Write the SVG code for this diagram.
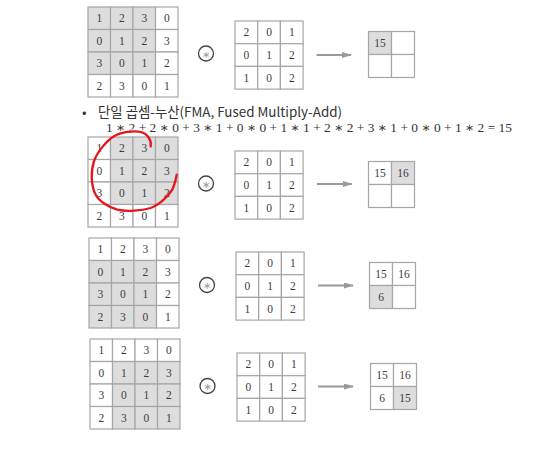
<svg xmlns="http://www.w3.org/2000/svg" width="545" height="449" viewBox="0 0 545 449">
<style>
.c{fill:#fff;stroke:#a6a6a6;stroke-width:1.2}
.s{fill:#dddddd;stroke:#a6a6a6;stroke-width:1.2}
.n{font-family:"Liberation Serif","DejaVu Serif",serif;font-size:11.5px;fill:#3c3c3c;text-anchor:middle}
.op{fill:#fff;stroke:#444;stroke-width:1.3}
.st{font-family:"DejaVu Sans",sans-serif;font-size:10px;fill:#999;text-anchor:middle}
.ar{stroke:#9a9a9a;stroke-width:2;fill:none}
.t{font-family:"Noto Sans CJK KR","Noto Sans",sans-serif;font-size:13.4px;fill:#333}
.eq{font-family:"Liberation Serif","DejaVu Serif",serif;font-size:13.4px;fill:#333}
</style>
<defs>
<marker id="ah" viewBox="0 0 10 6" refX="9" refY="3" markerWidth="5" markerHeight="3" orient="auto" markerUnits="strokeWidth">
<path d="M0,0 L10,3 L0,6 z" fill="#9a9a9a"/>
</marker>
</defs>
<rect width="545" height="449" fill="#fff"/>

<!-- Panel 1 -->
<g id="panel1" transform="translate(88,7)">
<g id="p1-input">
<rect class="s" x="0" y="0" width="22.5" height="22.5"/><rect class="s" x="22.5" y="0" width="22.5" height="22.5"/><rect class="s" x="45" y="0" width="22.5" height="22.5"/><rect class="c" x="67.5" y="0" width="22.5" height="22.5"/>
<rect class="s" x="0" y="22.5" width="22.5" height="22.5"/><rect class="s" x="22.5" y="22.5" width="22.5" height="22.5"/><rect class="s" x="45" y="22.5" width="22.5" height="22.5"/><rect class="c" x="67.5" y="22.5" width="22.5" height="22.5"/>
<rect class="s" x="0" y="45" width="22.5" height="22.5"/><rect class="s" x="22.5" y="45" width="22.5" height="22.5"/><rect class="s" x="45" y="45" width="22.5" height="22.5"/><rect class="c" x="67.5" y="45" width="22.5" height="22.5"/>
<rect class="c" x="0" y="67.5" width="22.5" height="22.5"/><rect class="c" x="22.5" y="67.5" width="22.5" height="22.5"/><rect class="c" x="45" y="67.5" width="22.5" height="22.5"/><rect class="c" x="67.5" y="67.5" width="22.5" height="22.5"/>
<text class="n" x="11.25" y="15.25">1</text><text class="n" x="33.75" y="15.25">2</text><text class="n" x="56.25" y="15.25">3</text><text class="n" x="78.75" y="15.25">0</text>
<text class="n" x="11.25" y="37.75">0</text><text class="n" x="33.75" y="37.75">1</text><text class="n" x="56.25" y="37.75">2</text><text class="n" x="78.75" y="37.75">3</text>
<text class="n" x="11.25" y="60.25">3</text><text class="n" x="33.75" y="60.25">0</text><text class="n" x="56.25" y="60.25">1</text><text class="n" x="78.75" y="60.25">2</text>
<text class="n" x="11.25" y="82.75">2</text><text class="n" x="33.75" y="82.75">3</text><text class="n" x="56.25" y="82.75">0</text><text class="n" x="78.75" y="82.75">1</text>
</g>
<g id="p1-op"><circle class="op" cx="118" cy="46.5" r="7.5"/><text class="st" x="118" y="50.5">∗</text></g>
<g id="p1-kernel">
<rect class="c" x="147" y="14" width="22.7" height="22.7"/><rect class="c" x="169.7" y="14" width="22.7" height="22.7"/><rect class="c" x="192.4" y="14" width="22.7" height="22.7"/>
<rect class="c" x="147" y="36.7" width="22.7" height="22.7"/><rect class="c" x="169.7" y="36.7" width="22.7" height="22.7"/><rect class="c" x="192.4" y="36.7" width="22.7" height="22.7"/>
<rect class="c" x="147" y="59.4" width="22.7" height="22.7"/><rect class="c" x="169.7" y="59.4" width="22.7" height="22.7"/><rect class="c" x="192.4" y="59.4" width="22.7" height="22.7"/>
<text class="n" x="158.35" y="29.35">2</text><text class="n" x="181.05" y="29.35">0</text><text class="n" x="203.75" y="29.35">1</text>
<text class="n" x="158.35" y="52.05">0</text><text class="n" x="181.05" y="52.05">1</text><text class="n" x="203.75" y="52.05">2</text>
<text class="n" x="158.35" y="74.75">1</text><text class="n" x="181.05" y="74.75">0</text><text class="n" x="203.75" y="74.75">2</text>
</g>
<g id="p1-output">
<rect class="s" x="280.5" y="24.5" width="23" height="23"/><rect class="c" x="303.5" y="24.5" width="23" height="23"/>
<rect class="c" x="280.5" y="47.5" width="23" height="23"/><rect class="c" x="303.5" y="47.5" width="23" height="23"/>
<text class="n" x="292" y="40">15</text>
</g>
</g>

<!-- Panel 2 -->
<g id="panel2" transform="translate(88,137)">
<g id="p2-input">
<rect class="c" x="0" y="0" width="22.5" height="22.5"/><rect class="s" x="22.5" y="0" width="22.5" height="22.5"/><rect class="s" x="45" y="0" width="22.5" height="22.5"/><rect class="s" x="67.5" y="0" width="22.5" height="22.5"/>
<rect class="c" x="0" y="22.5" width="22.5" height="22.5"/><rect class="s" x="22.5" y="22.5" width="22.5" height="22.5"/><rect class="s" x="45" y="22.5" width="22.5" height="22.5"/><rect class="s" x="67.5" y="22.5" width="22.5" height="22.5"/>
<rect class="c" x="0" y="45" width="22.5" height="22.5"/><rect class="s" x="22.5" y="45" width="22.5" height="22.5"/><rect class="s" x="45" y="45" width="22.5" height="22.5"/><rect class="s" x="67.5" y="45" width="22.5" height="22.5"/>
<rect class="c" x="0" y="67.5" width="22.5" height="22.5"/><rect class="c" x="22.5" y="67.5" width="22.5" height="22.5"/><rect class="c" x="45" y="67.5" width="22.5" height="22.5"/><rect class="c" x="67.5" y="67.5" width="22.5" height="22.5"/>
<text class="n" x="11.25" y="15.25">1</text><text class="n" x="33.75" y="15.25">2</text><text class="n" x="56.25" y="15.25">3</text><text class="n" x="78.75" y="15.25">0</text>
<text class="n" x="11.25" y="37.75">0</text><text class="n" x="33.75" y="37.75">1</text><text class="n" x="56.25" y="37.75">2</text><text class="n" x="78.75" y="37.75">3</text>
<text class="n" x="11.25" y="60.25">3</text><text class="n" x="33.75" y="60.25">0</text><text class="n" x="56.25" y="60.25">1</text><text class="n" x="78.75" y="60.25">2</text>
<text class="n" x="11.25" y="82.75">2</text><text class="n" x="33.75" y="82.75">3</text><text class="n" x="56.25" y="82.75">0</text><text class="n" x="78.75" y="82.75">1</text>
</g>
<g id="p2-op"><circle class="op" cx="118" cy="46.5" r="7.5"/><text class="st" x="118" y="50.5">∗</text></g>
<g id="p2-kernel">
<rect class="c" x="147" y="14" width="22.7" height="22.7"/><rect class="c" x="169.7" y="14" width="22.7" height="22.7"/><rect class="c" x="192.4" y="14" width="22.7" height="22.7"/>
<rect class="c" x="147" y="36.7" width="22.7" height="22.7"/><rect class="c" x="169.7" y="36.7" width="22.7" height="22.7"/><rect class="c" x="192.4" y="36.7" width="22.7" height="22.7"/>
<rect class="c" x="147" y="59.4" width="22.7" height="22.7"/><rect class="c" x="169.7" y="59.4" width="22.7" height="22.7"/><rect class="c" x="192.4" y="59.4" width="22.7" height="22.7"/>
<text class="n" x="158.35" y="29.35">2</text><text class="n" x="181.05" y="29.35">0</text><text class="n" x="203.75" y="29.35">1</text>
<text class="n" x="158.35" y="52.05">0</text><text class="n" x="181.05" y="52.05">1</text><text class="n" x="203.75" y="52.05">2</text>
<text class="n" x="158.35" y="74.75">1</text><text class="n" x="181.05" y="74.75">0</text><text class="n" x="203.75" y="74.75">2</text>
</g>
<g id="p2-output">
<rect class="c" x="280.5" y="24.5" width="23" height="23"/><rect class="s" x="303.5" y="24.5" width="23" height="23"/>
<rect class="c" x="280.5" y="47.5" width="23" height="23"/><rect class="c" x="303.5" y="47.5" width="23" height="23"/>
<text class="n" x="292" y="40">15</text><text class="n" x="315" y="40">16</text>
</g>
</g>

<!-- Panel 3 -->
<g id="panel3" transform="translate(89,238)">
<g id="p3-input">
<rect class="c" x="0" y="0" width="22.5" height="22.5"/><rect class="c" x="22.5" y="0" width="22.5" height="22.5"/><rect class="c" x="45" y="0" width="22.5" height="22.5"/><rect class="c" x="67.5" y="0" width="22.5" height="22.5"/>
<rect class="s" x="0" y="22.5" width="22.5" height="22.5"/><rect class="s" x="22.5" y="22.5" width="22.5" height="22.5"/><rect class="s" x="45" y="22.5" width="22.5" height="22.5"/><rect class="c" x="67.5" y="22.5" width="22.5" height="22.5"/>
<rect class="s" x="0" y="45" width="22.5" height="22.5"/><rect class="s" x="22.5" y="45" width="22.5" height="22.5"/><rect class="s" x="45" y="45" width="22.5" height="22.5"/><rect class="c" x="67.5" y="45" width="22.5" height="22.5"/>
<rect class="s" x="0" y="67.5" width="22.5" height="22.5"/><rect class="s" x="22.5" y="67.5" width="22.5" height="22.5"/><rect class="s" x="45" y="67.5" width="22.5" height="22.5"/><rect class="c" x="67.5" y="67.5" width="22.5" height="22.5"/>
<text class="n" x="11.25" y="15.25">1</text><text class="n" x="33.75" y="15.25">2</text><text class="n" x="56.25" y="15.25">3</text><text class="n" x="78.75" y="15.25">0</text>
<text class="n" x="11.25" y="37.75">0</text><text class="n" x="33.75" y="37.75">1</text><text class="n" x="56.25" y="37.75">2</text><text class="n" x="78.75" y="37.75">3</text>
<text class="n" x="11.25" y="60.25">3</text><text class="n" x="33.75" y="60.25">0</text><text class="n" x="56.25" y="60.25">1</text><text class="n" x="78.75" y="60.25">2</text>
<text class="n" x="11.25" y="82.75">2</text><text class="n" x="33.75" y="82.75">3</text><text class="n" x="56.25" y="82.75">0</text><text class="n" x="78.75" y="82.75">1</text>
</g>
<g id="p3-op"><circle class="op" cx="118" cy="47" r="7.5"/><text class="st" x="118" y="51">∗</text></g>
<g id="p3-kernel">
<rect class="c" x="147" y="14" width="22.7" height="22.7"/><rect class="c" x="169.7" y="14" width="22.7" height="22.7"/><rect class="c" x="192.4" y="14" width="22.7" height="22.7"/>
<rect class="c" x="147" y="36.7" width="22.7" height="22.7"/><rect class="c" x="169.7" y="36.7" width="22.7" height="22.7"/><rect class="c" x="192.4" y="36.7" width="22.7" height="22.7"/>
<rect class="c" x="147" y="59.4" width="22.7" height="22.7"/><rect class="c" x="169.7" y="59.4" width="22.7" height="22.7"/><rect class="c" x="192.4" y="59.4" width="22.7" height="22.7"/>
<text class="n" x="158.35" y="29.35">2</text><text class="n" x="181.05" y="29.35">0</text><text class="n" x="203.75" y="29.35">1</text>
<text class="n" x="158.35" y="52.05">0</text><text class="n" x="181.05" y="52.05">1</text><text class="n" x="203.75" y="52.05">2</text>
<text class="n" x="158.35" y="74.75">1</text><text class="n" x="181.05" y="74.75">0</text><text class="n" x="203.75" y="74.75">2</text>
</g>
<g id="p3-output">
<rect class="c" x="280.5" y="24.5" width="23" height="23"/><rect class="c" x="303.5" y="24.5" width="23" height="23"/>
<rect class="s" x="280.5" y="47.5" width="23" height="23"/><rect class="c" x="303.5" y="47.5" width="23" height="23"/>
<text class="n" x="292" y="40">15</text><text class="n" x="315" y="40">16</text>
<text class="n" x="292" y="63">6</text>
</g>
</g>

<!-- Panel 4 -->
<g id="panel4" transform="translate(90,339)">
<g id="p4-input">
<rect class="c" x="0" y="0" width="22.5" height="22.5"/><rect class="c" x="22.5" y="0" width="22.5" height="22.5"/><rect class="c" x="45" y="0" width="22.5" height="22.5"/><rect class="c" x="67.5" y="0" width="22.5" height="22.5"/>
<rect class="c" x="0" y="22.5" width="22.5" height="22.5"/><rect class="s" x="22.5" y="22.5" width="22.5" height="22.5"/><rect class="s" x="45" y="22.5" width="22.5" height="22.5"/><rect class="s" x="67.5" y="22.5" width="22.5" height="22.5"/>
<rect class="c" x="0" y="45" width="22.5" height="22.5"/><rect class="s" x="22.5" y="45" width="22.5" height="22.5"/><rect class="s" x="45" y="45" width="22.5" height="22.5"/><rect class="s" x="67.5" y="45" width="22.5" height="22.5"/>
<rect class="c" x="0" y="67.5" width="22.5" height="22.5"/><rect class="s" x="22.5" y="67.5" width="22.5" height="22.5"/><rect class="s" x="45" y="67.5" width="22.5" height="22.5"/><rect class="s" x="67.5" y="67.5" width="22.5" height="22.5"/>
<text class="n" x="11.25" y="15.25">1</text><text class="n" x="33.75" y="15.25">2</text><text class="n" x="56.25" y="15.25">3</text><text class="n" x="78.75" y="15.25">0</text>
<text class="n" x="11.25" y="37.75">0</text><text class="n" x="33.75" y="37.75">1</text><text class="n" x="56.25" y="37.75">2</text><text class="n" x="78.75" y="37.75">3</text>
<text class="n" x="11.25" y="60.25">3</text><text class="n" x="33.75" y="60.25">0</text><text class="n" x="56.25" y="60.25">1</text><text class="n" x="78.75" y="60.25">2</text>
<text class="n" x="11.25" y="82.75">2</text><text class="n" x="33.75" y="82.75">3</text><text class="n" x="56.25" y="82.75">0</text><text class="n" x="78.75" y="82.75">1</text>
</g>
<g id="p4-op"><circle class="op" cx="117.5" cy="47" r="7.5"/><text class="st" x="117.5" y="51">∗</text></g>
<g id="p4-kernel">
<rect class="c" x="147" y="14" width="22.7" height="22.7"/><rect class="c" x="169.7" y="14" width="22.7" height="22.7"/><rect class="c" x="192.4" y="14" width="22.7" height="22.7"/>
<rect class="c" x="147" y="36.7" width="22.7" height="22.7"/><rect class="c" x="169.7" y="36.7" width="22.7" height="22.7"/><rect class="c" x="192.4" y="36.7" width="22.7" height="22.7"/>
<rect class="c" x="147" y="59.4" width="22.7" height="22.7"/><rect class="c" x="169.7" y="59.4" width="22.7" height="22.7"/><rect class="c" x="192.4" y="59.4" width="22.7" height="22.7"/>
<text class="n" x="158.35" y="29.35">2</text><text class="n" x="181.05" y="29.35">0</text><text class="n" x="203.75" y="29.35">1</text>
<text class="n" x="158.35" y="52.05">0</text><text class="n" x="181.05" y="52.05">1</text><text class="n" x="203.75" y="52.05">2</text>
<text class="n" x="158.35" y="74.75">1</text><text class="n" x="181.05" y="74.75">0</text><text class="n" x="203.75" y="74.75">2</text>
</g>
<g id="p4-output">
<rect class="c" x="280.5" y="24.5" width="23" height="23"/><rect class="c" x="303.5" y="24.5" width="23" height="23"/>
<rect class="c" x="280.5" y="47.5" width="23" height="23"/><rect class="s" x="303.5" y="47.5" width="23" height="23"/>
<text class="n" x="292" y="40">15</text><text class="n" x="315" y="40">16</text>
<text class="n" x="292" y="63">6</text><text class="n" x="315" y="63">15</text>
</g>
</g>

<!-- Connectors -->
<g id="connectors">
<line class="ar" x1="316.5" y1="55" x2="351" y2="55" marker-end="url(#ah)"/>
<line class="ar" x1="317" y1="184" x2="352" y2="184" marker-end="url(#ah)"/>
<line class="ar" x1="318" y1="285.5" x2="353" y2="285.5" marker-end="url(#ah)"/>
<line class="ar" x1="318" y1="386.5" x2="353" y2="386.5" marker-end="url(#ah)"/>
</g>

<!-- Text -->
<g id="caption">
<text class="t" x="82" y="117">•</text>
<text class="t" x="98" y="117">단일 곱셈-누산(FMA, Fused Multiply-Add)</text>
<text class="eq" x="106" y="132" textLength="406" lengthAdjust="spacing">1 ∗ 2 + 2 ∗ 0 + 3 ∗ 1 + 0 ∗ 0 + 1 ∗ 1 + 2 ∗ 2 + 3 ∗ 1 + 0 ∗ 0 + 1 ∗ 2 = 15</text>
</g>

<!-- Red annotation -->
<path id="annotation" d="M150.7,146.3 C151.5,140 148,134 141,132 C134,130.5 121,132 114,136.3 C107,140.5 97,152 94,161.3 C91,170 90.5,185 95.7,194.7 C99,201 108,207 117.3,209.7 C127,212 142,210.5 150.7,208 C158,205.5 168,197 172.3,189.7 C175,184 176,178 176.7,174.7" fill="none" stroke="#e8141c" stroke-width="2.3" stroke-linecap="round"/>
</svg>
